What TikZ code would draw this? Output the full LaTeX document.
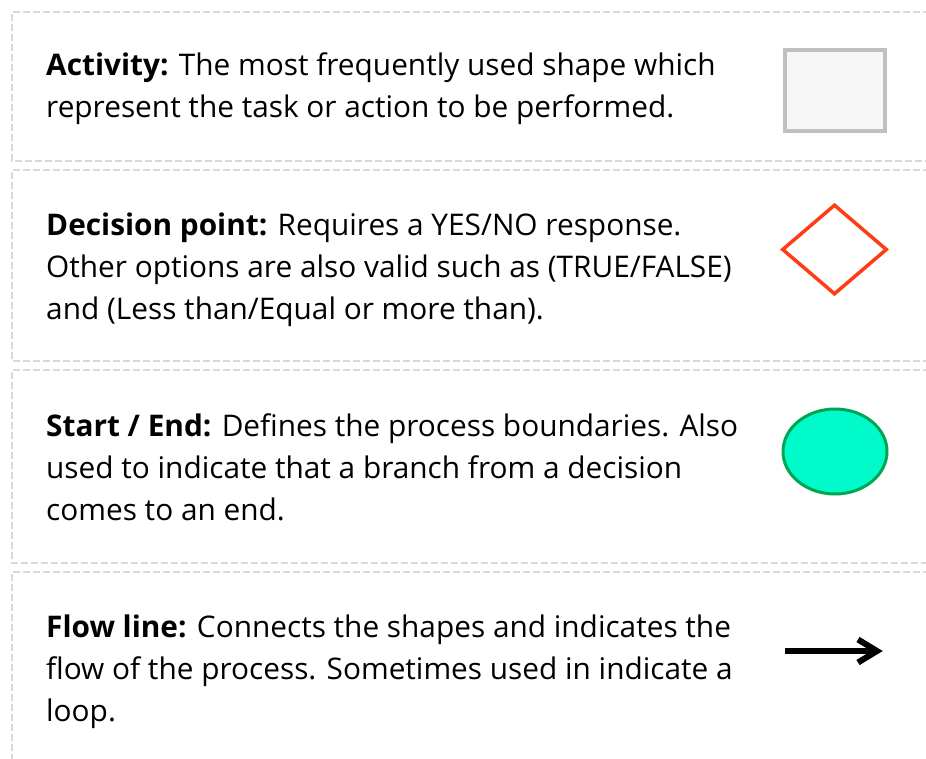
\documentclass[tikz,border=0pt]{standalone}
\usepackage{fontspec}
\setmainfont{Open Sans}
\usetikzlibrary{arrows.meta,shapes.geometric}
\definecolor{frameline}{HTML}{D9D9D9}
\definecolor{boxedge}{HTML}{C0C0C0}
\definecolor{boxfill}{HTML}{F7F7F7}
\definecolor{diamondred}{HTML}{FF3D14}
\definecolor{termfill}{HTML}{00FACA}
\definecolor{termedge}{HTML}{00A651}
\tikzset{
  panel/.style={draw=frameline, line width=2pt, dash pattern=on 7pt off 3pt},
  desc/.style={anchor=base west, align=left, inner sep=0pt,
    font=\fontsize{29.8}{42}\selectfont, text=black},
  flowline/.style={draw=black, line width=6pt, line join=miter},
}
\begin{document}
\begin{tikzpicture}[x=1pt,y=-1pt]
  \useasboundingbox (0,0) rectangle (926,758);
  \begin{scope}
    \clip (0,0) rectangle (926,758);
    % dashed panel frames, open to the right
    \draw[panel] (940,12) -- (12,12) -- (12,161) -- (940,161);
    \draw[panel] (940,170) -- (12,170) -- (12,361) -- (940,361);
    \draw[panel] (940,370) -- (12,370) -- (12,563) -- (940,563);
    \draw[panel] (940,572) -- (12,572) -- (12,770);
  \end{scope}

  % descriptions (anchored on the baseline of their last line)
  \node[desc] (tact) at (46,117) {\textbf{Activity:} The most frequently used shape which\\represent the task or action to be performed.};
  \node[desc] (tdec) at (46,319) {\textbf{Decision point:} Requires a YES/NO response.\\Other options are also valid such as (TRUE/FALSE)\\and (Less than/Equal or more than).};
  \node[desc] (tse) at (46,520) {\textbf{Start / End:} Defines the process boundaries. Also\\used to indicate that a branch from a decision\\comes to an end.};
  \node[desc] (tflow) at (46,721) {\textbf{Flow line:} Connects the shapes and indicates the\\flow of the process. Sometimes used in indicate a\\loop.};

  % symbols
  \node[draw=boxedge, fill=boxfill, line width=4pt, minimum width=100pt,
        minimum height=81pt, inner sep=0pt] (act) at (835,90.5) {};
  \node[diamond, draw=diamondred, line width=3.5pt, minimum width=105pt,
        minimum height=90pt, inner sep=0pt] (dec) at (834.5,249.5) {};
  \node[ellipse, draw=termedge, fill=termfill, line width=3pt, minimum width=104pt,
        minimum height=85pt, inner sep=0pt] (se) at (835,451.5) {};

  % flow line arrow: shaft and open barb head
  \coordinate (fa) at (785,651);
  \coordinate (fb) at (877,651);
  \coordinate (fu) at (858,639.5);
  \coordinate (fd) at (858,662.5);
  \path[flowline] (fa) -- (fb);
  \path[flowline] (fu) -- (fb) -- (fd);
\end{tikzpicture}
\end{document}
